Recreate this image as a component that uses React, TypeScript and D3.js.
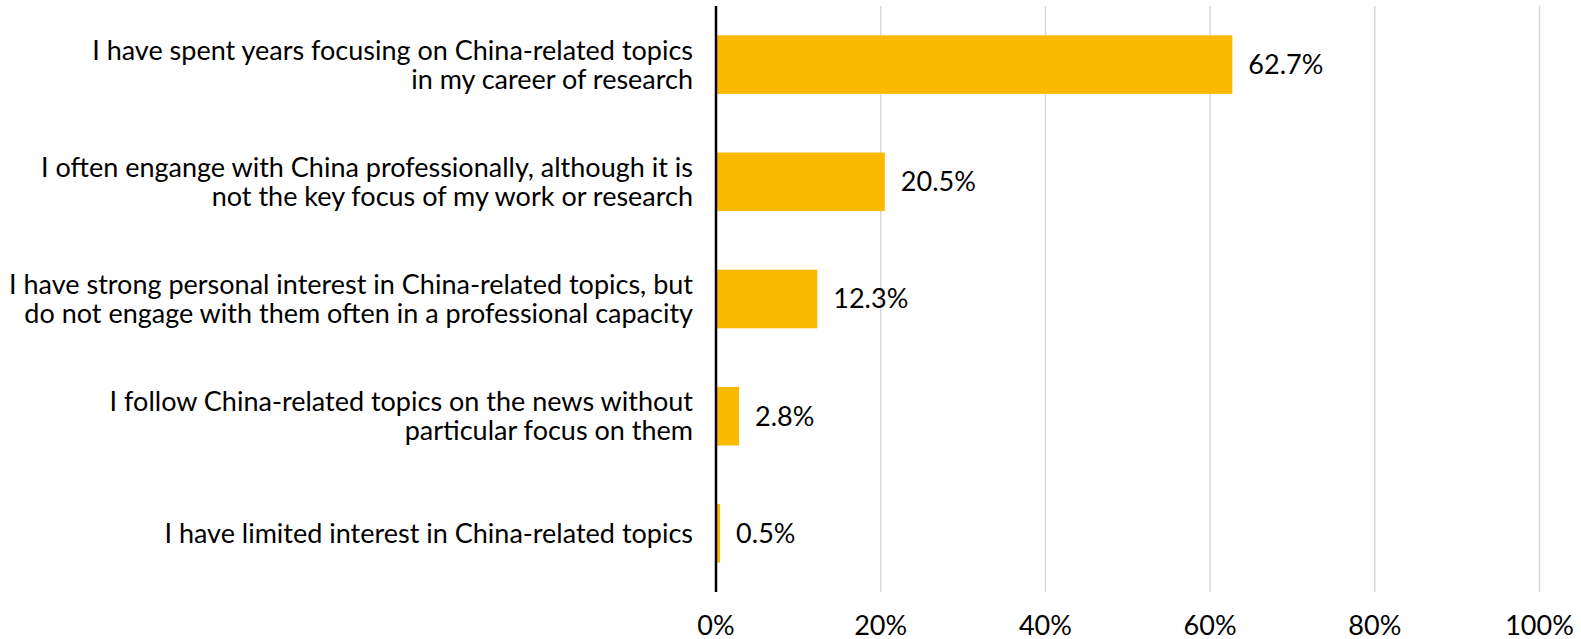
import React, { useEffect, useRef } from 'react';
import * as d3 from 'd3';

// survey answers, top to bottom
const categories: string[][] = [
  ['I have spent years focusing on China-related topics', 'in my career of research'],
  ['I often engange with China professionally, although it is', 'not the key focus of my work or research'],
  ['I have strong personal interest in China-related topics, but', 'do not engage with them often in a professional capacity'],
  ['I follow China-related topics on the news without', 'particular focus on them'],
  ['I have limited interest in China-related topics'],
];
const shares: number[] = [62.7, 20.5, 12.3, 2.8, 0.5];
const xTicks: number[] = [0, 20, 40, 60, 80, 100];

const FONT = 'Lato, "Liberation Sans Narrow", sans-serif';

const App: React.FC = () => {
  const d3Container = useRef(null);

  useEffect(() => {
    if (!d3Container.current) return;
    const svg = d3.select(d3Container.current);
    svg.selectAll('*').remove();

    const W = 1581;
    const H = 639;
    const margin = { top: 6, right: 41.5, bottom: 47, left: 716 };

    const keys = categories.map((c) => c.join(' '));
    const x = d3.scaleLinear().domain([0, 100]).range([margin.left, W - margin.right]);
    const y = d3
      .scaleBand()
      .domain(keys)
      .range([margin.top, H - margin.bottom])
      .paddingInner(0.5)
      .paddingOuter(0.25);

    // gridlines
    svg
      .append('g')
      .selectAll('line')
      .data(xTicks.filter((t) => t > 0))
      .enter()
      .append('line')
      .attr('x1', (d) => x(d))
      .attr('x2', (d) => x(d))
      .attr('y1', margin.top)
      .attr('y2', H - margin.bottom)
      .attr('stroke', '#d9d9d9')
      .attr('stroke-width', 1.5);

    // bars
    svg
      .append('g')
      .selectAll('rect')
      .data(shares)
      .enter()
      .append('rect')
      .attr('x', x(0))
      .attr('y', (d, i) => y(keys[i]) as number)
      .attr('width', (d) => x(d) - x(0))
      .attr('height', y.bandwidth())
      .attr('fill', '#fbba00');

    // value labels
    svg
      .append('g')
      .selectAll('text')
      .data(shares)
      .enter()
      .append('text')
      .attr('x', (d) => x(d) + 16)
      .attr('y', (d, i) => (y(keys[i]) as number) + y.bandwidth() / 2)
      .attr('dy', '0.35em')
      .attr('font-family', FONT)
      .attr('font-size', 27)
      .attr('fill', '#000')
      .text((d) => `${d.toFixed(1)}%`);

    // category labels
    const lineH = 29;
    const labels = svg
      .append('g')
      .selectAll('text')
      .data(categories)
      .enter()
      .append('text')
      .attr('text-anchor', 'end')
      .attr('font-family', FONT)
      .attr('font-size', 27)
      .attr('fill', '#000')
      .attr('y', (d, i) => (y(keys[i]) as number) + y.bandwidth() / 2);
    labels.each(function (lines) {
      const t = d3.select(this);
      const y0 = -((lines.length - 1) * lineH) / 2;
      lines.forEach((line, j) => {
        t.append('tspan')
          .attr('x', margin.left - 23)
          .attr('dy', j === 0 ? y0 + 9.5 : lineH)
          .text(line);
      });
    });

    // axis line
    svg
      .append('line')
      .attr('x1', x(0))
      .attr('x2', x(0))
      .attr('y1', margin.top)
      .attr('y2', H - margin.bottom)
      .attr('stroke', '#000')
      .attr('stroke-width', 2.5);

    // x tick labels
    svg
      .append('g')
      .selectAll('text')
      .data(xTicks)
      .enter()
      .append('text')
      .attr('x', (d) => x(d))
      .attr('y', H - 4)
      .attr('text-anchor', 'middle')
      .attr('font-family', FONT)
      .attr('font-size', 27)
      .attr('fill', '#000')
      .text((d) => `${d}%`);
  }, []);

  return (
    <svg
      ref={d3Container}
      width={1581}
      height={639}
      style={{ position: 'absolute', left: 0, top: 0, background: '#fff' }}
    />
  );
};

export default App;
